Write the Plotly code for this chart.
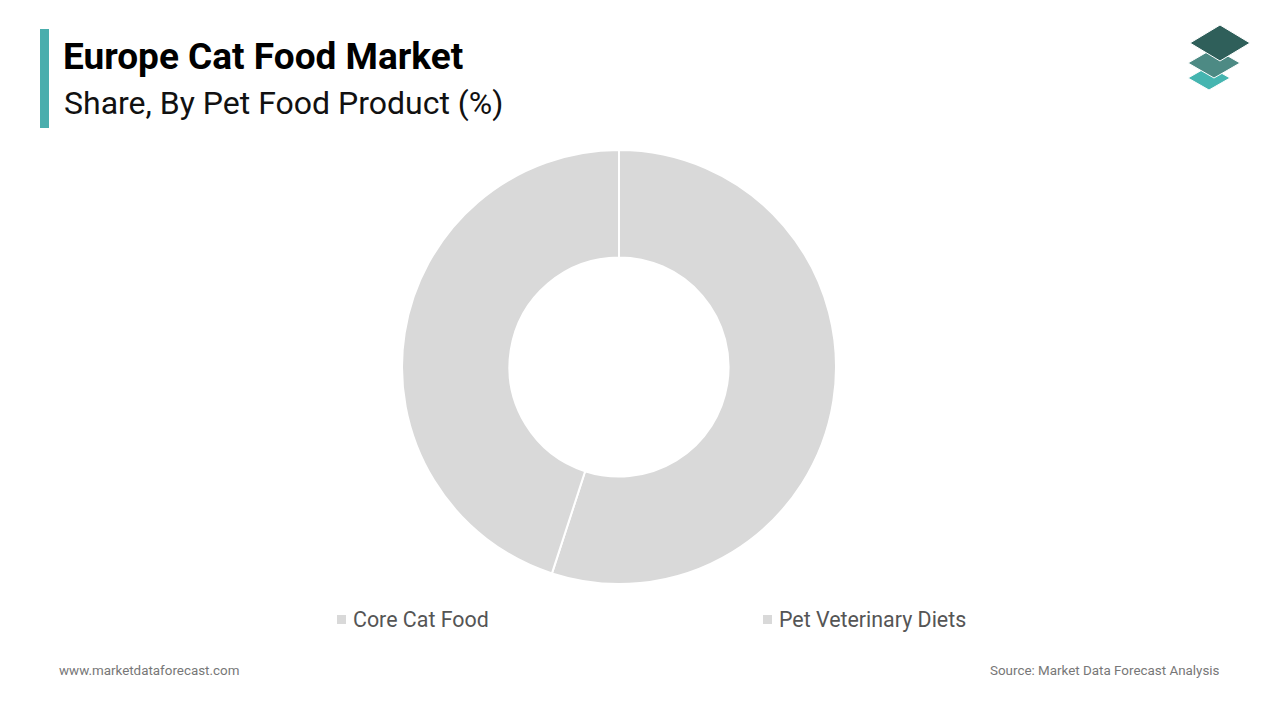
import plotly.graph_objects as go

labels = ["Core Cat Food", "Pet Veterinary Diets"]
values = [55, 45]
colors = ["#d9d9d9", "#d9d9d9"]

title = "Europe Cat Food Market"
subtitle = "Share, By Pet Food Product (%)"
footer_left = "www.marketdataforecast.com"
footer_right = "Source: Market Data Forecast Analysis"

W, H = 1280, 720
cx, cy, r = 619, 367, 217

fig = go.Figure(go.Pie(
    labels=labels, values=values, hole=0.505, sort=False,
    direction="clockwise", rotation=0,
    marker=dict(colors=colors, line=dict(color="white", width=2)),
    textinfo="none", hoverinfo="label+percent",
    domain=dict(x=[(cx - r) / W, (cx + r) / W], y=[1 - (cy + r) / H, 1 - (cy - r) / H]),
    showlegend=False,
))

def px(x):
    return x / W

def py(y):
    return 1 - y / H

shapes = [dict(type="rect", xref="paper", yref="paper", x0=px(40), x1=px(49), y0=py(128), y1=py(29),
               fillcolor="#4aaead", line=dict(width=0))]

def diamond(cx_, cy_, w, h, color):
    pts = [(cx_, cy_ - h / 2), (cx_ + w / 2, cy_), (cx_, cy_ + h / 2), (cx_ - w / 2, cy_)]
    path = "M " + " L ".join(f"{px(a)},{py(b)}" for a, b in pts) + " Z"
    return dict(type="path", xref="paper", yref="paper", path=path, fillcolor=color,
                line=dict(color="white", width=1))

shapes += [diamond(1209, 78, 42, 24, "#45b5b0"),
           diamond(1214, 63, 52, 30, "#4d8a84"),
           diamond(1220, 43, 60, 36, "#2f5f5a")]

annotations = [
    dict(text=f"<b>{title}</b>", x=px(61), y=py(57), xref="paper", yref="paper", xanchor="left",
         yanchor="middle", showarrow=False, font=dict(family="Roboto", size=37, color="#000")),
    dict(text=subtitle, x=px(62), y=py(103), xref="paper", yref="paper", xanchor="left",
         yanchor="middle", showarrow=False, font=dict(family="Roboto", size=32, color="#111")),
    dict(text=footer_left, x=px(57), y=py(670), xref="paper", yref="paper", xanchor="left",
         yanchor="middle", showarrow=False, font=dict(family="Roboto", size=13.4, color="#777")),
    dict(text=footer_right, x=px(1222), y=py(670), xref="paper", yref="paper", xanchor="right",
         yanchor="middle", showarrow=False, font=dict(family="Roboto", size=13.4, color="#777")),
]

leg_x = [337, 763]
leg_y = 619
for lab, col, lx in zip(labels, colors, leg_x):
    shapes.append(dict(type="rect", xref="paper", yref="paper", x0=px(lx), x1=px(lx + 9),
                       y0=py(leg_y + 5), y1=py(leg_y - 4), fillcolor=col, line=dict(width=0)))
    annotations.append(dict(text=lab, x=px(lx + 14), y=py(leg_y), xref="paper", yref="paper",
                            xanchor="left", yanchor="middle", showarrow=False,
                            font=dict(family="Roboto", size=21.4, color="#555")))

fig.update_layout(width=W, height=H, margin=dict(l=0, r=0, t=0, b=0),
                  paper_bgcolor="white", plot_bgcolor="white",
                  shapes=shapes, annotations=annotations)

fig.write_html("out.html")
